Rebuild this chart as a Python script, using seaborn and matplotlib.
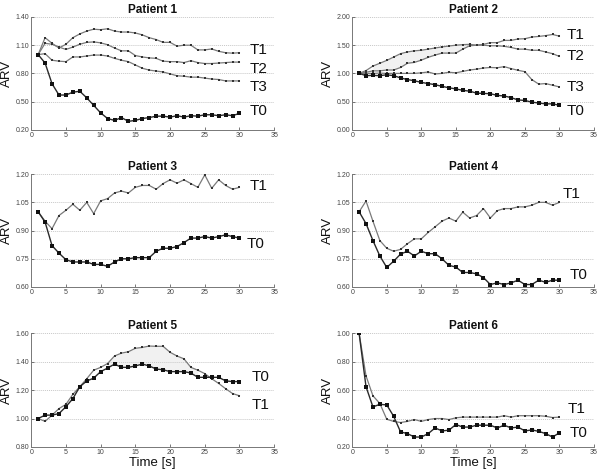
"""
ARV curves for six patients (T0..T3 sessions), 2x3 grid of small panels.
"""

import numpy as np
import pandas as pd
import matplotlib
matplotlib.use("Agg")
import matplotlib.pyplot as plt
import seaborn as sns

# time axis (s)
tempo = list(range(1, 31))

# Patient 1
p1_t0 = [1.00, 0.91, 0.69, 0.57, 0.57, 0.60, 0.61, 0.54, 0.46, 0.38, 0.32, 0.30, 0.33, 0.29, 0.30,
         0.32, 0.33, 0.345, 0.345, 0.335, 0.35, 0.335, 0.35, 0.345, 0.36, 0.36, 0.35, 0.36, 0.35, 0.375]
p1_t1 = [1.00, 1.18, 1.12, 1.07, 1.11, 1.18, 1.22, 1.25, 1.27, 1.265, 1.275, 1.25, 1.24, 1.24, 1.23,
         1.21, 1.18, 1.16, 1.13, 1.13, 1.09, 1.10, 1.10, 1.05, 1.05, 1.06, 1.035, 1.02, 1.015, 1.02]
p1_t2 = [1.00, 1.12, 1.11, 1.08, 1.055, 1.08, 1.11, 1.13, 1.135, 1.125, 1.105, 1.07, 1.04, 1.04, 0.99,
         0.975, 0.965, 0.96, 0.93, 0.925, 0.925, 0.915, 0.935, 0.915, 0.905, 0.905, 0.91, 0.915, 0.92, 0.92]
p1_t3 = [1.00, 1.01, 0.94, 0.93, 0.925, 0.975, 0.975, 0.985, 0.995, 0.995, 0.985, 0.96, 0.94, 0.925, 0.89,
         0.855, 0.835, 0.825, 0.815, 0.795, 0.775, 0.77, 0.76, 0.76, 0.75, 0.74, 0.735, 0.72, 0.72, 0.72]

# Patient 2
p2_t0 = [1.00, 0.96, 0.965, 0.96, 0.975, 0.96, 0.92, 0.89, 0.87, 0.84, 0.82, 0.80, 0.77, 0.745, 0.725,
         0.70, 0.685, 0.65, 0.645, 0.64, 0.61, 0.60, 0.57, 0.53, 0.52, 0.49, 0.475, 0.46, 0.46, 0.435]
p2_t1 = [1.00, 1.05, 1.13, 1.18, 1.23, 1.29, 1.35, 1.38, 1.40, 1.41, 1.43, 1.45, 1.47, 1.485, 1.50,
         1.51, 1.515, 1.50, 1.515, 1.545, 1.545, 1.585, 1.585, 1.61, 1.615, 1.645, 1.655, 1.67, 1.69, 1.66]
p2_t2 = [1.00, 1.02, 1.045, 1.045, 1.06, 1.06, 1.105, 1.18, 1.195, 1.235, 1.285, 1.325, 1.36, 1.36, 1.36,
         1.43, 1.49, 1.50, 1.50, 1.49, 1.49, 1.48, 1.46, 1.43, 1.43, 1.41, 1.41, 1.38, 1.35, 1.30]
p2_t3 = [1.00, 1.00, 1.00, 1.005, 1.00, 1.00, 1.00, 1.00, 1.00, 1.01, 1.025, 0.99, 1.00, 1.02, 1.01,
         1.035, 1.06, 1.075, 1.095, 1.105, 1.10, 1.12, 1.085, 1.055, 1.03, 0.89, 0.81, 0.82, 0.79, 0.76]

# Patient 3
p3_t0 = [1.00, 0.945, 0.82, 0.78, 0.745, 0.733, 0.733, 0.733, 0.72, 0.72, 0.71, 0.733, 0.75, 0.75, 0.756,
         0.756, 0.756, 0.79, 0.806, 0.806, 0.815, 0.836, 0.86, 0.86, 0.868, 0.86, 0.868, 0.877, 0.868, 0.86]
p3_t1 = [1.00, 0.95, 0.91, 0.98, 1.008, 1.04, 1.008, 1.05, 0.99, 1.058, 1.07, 1.10, 1.11, 1.10, 1.13,
         1.14, 1.14, 1.12, 1.15, 1.17, 1.152, 1.17, 1.15, 1.13, 1.196, 1.125, 1.17, 1.14, 1.12, 1.13]

# Patient 4
p4_t0 = [1.00, 0.937, 0.847, 0.765, 0.704, 0.737, 0.775, 0.79, 0.765, 0.79, 0.777, 0.777, 0.75, 0.715, 0.706,
         0.677, 0.677, 0.67, 0.65, 0.613, 0.622, 0.613, 0.622, 0.636, 0.613, 0.613, 0.636, 0.625, 0.636, 0.636]
p4_t1 = [1.00, 1.057, 0.95, 0.847, 0.806, 0.79, 0.80, 0.83, 0.856, 0.856, 0.89, 0.92, 0.95, 0.967, 0.95,
         0.998, 0.967, 0.98, 1.017, 0.967, 1.006, 1.017, 1.017, 1.026, 1.026, 1.035, 1.05, 1.05, 1.035, 1.05]

# Patient 5
p5_t0 = [1.00, 1.024, 1.024, 1.035, 1.083, 1.14, 1.224, 1.264, 1.284, 1.33, 1.355, 1.383, 1.36, 1.36, 1.37,
         1.383, 1.37, 1.348, 1.343, 1.33, 1.33, 1.33, 1.32, 1.29, 1.29, 1.29, 1.29, 1.265, 1.26, 1.26]
p5_t1 = [1.00, 0.98, 1.024, 1.07, 1.10, 1.17, 1.224, 1.28, 1.34, 1.36, 1.387, 1.44, 1.46, 1.47, 1.494,
         1.50, 1.51, 1.508, 1.508, 1.466, 1.44, 1.42, 1.36, 1.34, 1.316, 1.28, 1.247, 1.21, 1.176, 1.16]

# Patient 6
p6_t0 = [1.00, 0.624, 0.482, 0.50, 0.496, 0.416, 0.306, 0.294, 0.27, 0.27, 0.294, 0.334, 0.313, 0.318, 0.358,
         0.34, 0.34, 0.353, 0.353, 0.353, 0.334, 0.353, 0.334, 0.34, 0.313, 0.32, 0.31, 0.294, 0.27, 0.30]
p6_t1 = [1.00, 0.70, 0.56, 0.506, 0.395, 0.38, 0.372, 0.38, 0.393, 0.38, 0.393, 0.40, 0.40, 0.393, 0.405,
         0.41, 0.41, 0.41, 0.41, 0.41, 0.41, 0.42, 0.41, 0.42, 0.42, 0.42, 0.42, 0.416, 0.407, 0.41]

# y ticks for each panel
yticks_p1 = [0.20, 0.50, 0.80, 1.10, 1.40]
yticks_p2 = [0.00, 0.50, 1.00, 1.50, 2.00]
yticks_p34 = [0.60, 0.75, 0.90, 1.05, 1.20]
yticks_p5 = [0.80, 1.00, 1.20, 1.40, 1.60]
yticks_p6 = [0.20, 0.40, 0.60, 0.80, 1.00]
xticks = [0, 5, 10, 15, 20, 25, 30, 35]

sns.set_theme(style="ticks")
plt.rcParams['font.family'] = ['Liberation Sans', 'DejaVu Sans']

COR_FINA = '#7a7a7a'
COR_T0 = '#2a2a2a'


def desenhar_serie(ax, valores, sessao):
    """Plota uma série; T0 com traço mais escuro e marcadores maiores."""
    df = pd.DataFrame({'tempo': tempo, 'arv': valores})
    if sessao == 'T0':
        sns.lineplot(data=df, x='tempo', y='arv', ax=ax, color=COR_T0, lw=1.0,
                     marker='s', markersize=3.0, markeredgewidth=0,
                     markerfacecolor='#111111')
    else:
        sns.lineplot(data=df, x='tempo', y='arv', ax=ax, color=COR_FINA, lw=0.9,
                     marker='s', markersize=2.0, markeredgewidth=0,
                     markerfacecolor='#333333')


def painel(ax, titulo, series, rotulos, yticks, xlabel=False, sombra=None):
    for nome, valores in series.items():
        desenhar_serie(ax, valores, nome)
    if sombra is not None:
        a, b, i0, i1 = sombra
        ax.fill_between(tempo[i0:i1], a[i0:i1], b[i0:i1], color='#f1f1f1', lw=0, zorder=0)
    for nome, (x, y) in rotulos.items():
        ax.text(x, y, nome, ha='left', va='center', fontsize=11, color='#111111')
    ax.set_xlim(0, 35)
    ax.set_ylim(yticks[0], yticks[-1])
    ax.set_xticks(xticks)
    ax.set_yticks(yticks)
    ax.set_yticklabels([f'{v:.2f}' for v in yticks])
    ax.tick_params(labelsize=5, colors='#444444', direction='in', length=2, width=0.5, pad=1.5)
    for v in yticks[1:]:
        ax.axhline(v, color='#c8c8c8', lw=0.7, ls=(0, (1, 1)), zorder=0)
    sns.despine(ax=ax)
    for lado in ('left', 'bottom'):
        ax.spines[lado].set_color('#777777')
        ax.spines[lado].set_linewidth(0.7)
    ax.set_title(titulo, fontsize=8.5, fontweight='bold', pad=3, color='#111111')
    ax.set_ylabel('ARV', fontsize=9.5, labelpad=2, color='#111111')
    if xlabel:
        ax.set_xlabel('Time [s]', fontsize=9.5, labelpad=1, color='#111111')
    else:
        ax.set_xlabel('')


fig = plt.figure(figsize=(6.0, 4.72), dpi=100)

esq, larg_esq = 0.052, 0.405
dir_, larg_dir = 0.587, 0.403
linhas = [(0.725, 0.239), (0.392, 0.239), (0.053, 0.241)]

ax1 = fig.add_axes([esq, linhas[0][0], larg_esq, linhas[0][1]])
ax2 = fig.add_axes([dir_, linhas[0][0], larg_dir, linhas[0][1]])
ax3 = fig.add_axes([esq, linhas[1][0], larg_esq, linhas[1][1]])
ax4 = fig.add_axes([dir_, linhas[1][0], larg_dir, linhas[1][1]])
ax5 = fig.add_axes([esq, linhas[2][0], larg_esq, linhas[2][1]])
ax6 = fig.add_axes([dir_, linhas[2][0], larg_dir, linhas[2][1]])

painel(ax1, 'Patient 1', {'T1': p1_t1, 'T2': p1_t2, 'T3': p1_t3, 'T0': p1_t0},
       {'T1': (31.5, 1.05), 'T2': (31.5, 0.85), 'T3': (31.5, 0.65), 'T0': (31.5, 0.40)}, yticks_p1)
painel(ax2, 'Patient 2', {'T1': p2_t1, 'T2': p2_t2, 'T3': p2_t3, 'T0': p2_t0},
       {'T1': (31.0, 1.68), 'T2': (31.0, 1.30), 'T3': (31.0, 0.75), 'T0': (31.0, 0.33)}, yticks_p2,
       sombra=(p2_t1, p2_t2, 2, 17))
painel(ax3, 'Patient 3', {'T1': p3_t1, 'T0': p3_t0},
       {'T1': (31.5, 1.135), 'T0': (31.0, 0.83)}, yticks_p34)
painel(ax4, 'Patient 4', {'T1': p4_t1, 'T0': p4_t0},
       {'T1': (30.5, 1.095), 'T0': (31.4, 0.665)}, yticks_p34)
painel(ax5, 'Patient 5', {'T1': p5_t1, 'T0': p5_t0},
       {'T0': (31.7, 1.29), 'T1': (31.7, 1.095)}, yticks_p5, xlabel=True,
       sombra=(p5_t1, p5_t0, 10, 24))
painel(ax6, 'Patient 6', {'T1': p6_t1, 'T0': p6_t0},
       {'T1': (31.2, 0.47), 'T0': (31.5, 0.30)}, yticks_p6, xlabel=True)

fig.savefig('out.png', dpi=100)
plt.close(fig)
